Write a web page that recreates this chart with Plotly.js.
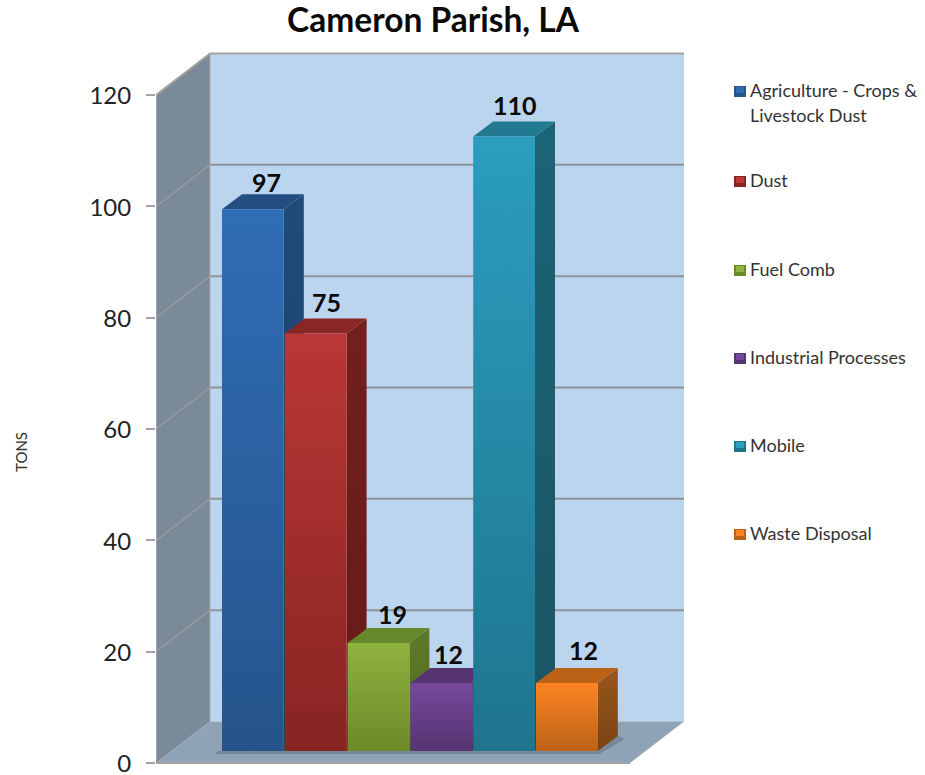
<!DOCTYPE html>
<html>
<head>
<meta charset="utf-8">
<script src="https://cdn.plot.ly/plotly-3.0.1.min.js"></script>
<style>html,body{margin:0;padding:0;background:#fff}#chart{width:925px;height:775px}</style>
</head>
<body>
<div id="chart"></div>
<script>
// ---- data ----
var categories = ['Agriculture - Crops &<br>Livestock Dust', 'Dust', 'Fuel Comb', 'Industrial Processes', 'Mobile', 'Waste Disposal'];
var values = [97.3, 75, 19.4, 12.2, 110.4, 12.2];
var valueLabels = ['97', '75', '19', '12', '110', '12'];
var tickValues = [0, 20, 40, 60, 80, 100, 120];
var chartTitle = 'Cameron Parish, LA';
var yTitle = 'TONS';

// ---- styles ----
var frontTop =  ['#2f6db5', '#ba3735', '#8fb23f', '#75489c', '#2b9dbe', '#fc8422'];
var frontBot =  ['#26548b', '#872422', '#6c8a29', '#553572', '#1e758e', '#bb6216'];
var topFace =   ['#234e82', '#8a2623', '#66872c', '#563471', '#217a91', '#bb6116'];
var sideTop =   ['#1f4a7a', '#731f1d', '#5d7a28', '#4a2d62', '#1b6476', '#99561c'];
var sideBot =   ['#1d4169', '#661b19', '#516a22', '#412857', '#1a5464', '#7a4312'];
var labelDx = [14, 11, 14, 7, 11, 17];
var labelDy = [-12, -17, -14, -14, -16, -18];
var FONT = 'Lato, "Open Sans", sans-serif';

// ---- geometry (axis scales) ----
var W = 925, H = 775;
var L = 156, R = 700, T = 40, B = 766;      // plot box in page pixels
var pxY = 668 / 120, pxX = 62.8;            // pixels per axis unit
var x0Px = 221.5, y0Px = 763;               // where x=0 (first bar) and y=0 lie
var xMin = (L - x0Px) / pxX, xMax = (R - x0Px) / pxX;
var yMax = (y0Px - T) / pxY, yMin = (y0Px - B) / pxY;
var wallDx = 54 / pxX, wallDy = 41.5 / pxY;
var barDx = 20 / pxX, barDy = 15 / pxY;
var barBase = 12 / pxY;
var floorRight = (630 - x0Px) / pxX;
var wallTop = 120;

function px(p) { return (p - L) / (R - L); }
function py(p) { return (B - p) / (B - T); }

function poly(xs, ys, fill) {
  return { type: 'path', xref: 'x', yref: 'y', layer: 'below', line: { width: 0 }, fillcolor: fill,
    path: 'M' + xs.map(function (x, i) { return x + ',' + ys[i]; }).join('L') + 'Z' };
}
function seg(xs, ys, color, width) {
  return { type: 'path', xref: 'x', yref: 'y', layer: 'below', line: { color: color, width: width },
    path: 'M' + xs.map(function (x, i) { return x + ',' + ys[i]; }).join('L') };
}

var shapes = [];
// walls and floor
shapes.push(poly([xMin, xMin + wallDx, xMin + wallDx, xMin], [wallTop, wallTop + wallDy, wallDy, 0], '#7b8a99'));
shapes.push(poly([xMin + wallDx, floorRight + wallDx, floorRight + wallDx, xMin + wallDx],
                 [wallTop + wallDy, wallTop + wallDy, wallDy, wallDy], '#bcd5ee'));
shapes.push(poly([xMin, xMin + wallDx, floorRight + wallDx, floorRight], [0, wallDy, wallDy, 0], '#8ea3b5'));
// shadow below the bars on the floor
var nBars = values.length;
shapes.push(poly([-0.06, nBars + barDx, nBars + barDx + 0.1, nBars + 0.02, -0.09],
                 [barBase, barBase + barDy, barBase + barDy - 0.55, barBase - 0.55, barBase - 0.55],
                 'rgba(90,105,120,0.45)'));
// gridlines
tickValues.forEach(function (v) {
  if (v > 0) {
    shapes.push(seg([xMin, xMin + wallDx], [v, v + wallDy], v === 120 ? '#a3a3a3' : '#979b9e', v === 120 ? 2 : 1.5));
    shapes.push(seg([xMin + wallDx, floorRight + wallDx], [v + wallDy, v + wallDy], v === 120 ? '#a3a3a3' : '#8d9298', 2));
  }
});
// axis edges
shapes.push(seg([xMin, xMin], [0, 120], '#a3a3a3', 2));
shapes.push(seg([xMin + wallDx, xMin + wallDx], [wallDy, 120 + wallDy], '#a3a3a3', 1));
shapes.push(seg([xMin, floorRight], [0, 0], '#a3a3a3', 2));

// bars
var traces = [];
function face(name, xs, ys, opts) {
  var t = { type: 'scatter', mode: 'lines', name: name, x: xs.concat(xs[0]), y: ys.concat(ys[0]),
    fill: 'toself', line: { width: 0 }, hoverinfo: 'skip', showlegend: false };
  for (var k in opts) t[k] = opts[k];
  return t;
}
values.forEach(function (v, i) {
  var name = categories[i].replace('<br>', ' ');
  var g = 0.008;
  var xl = i + g, xr = i + 1 - g, b = barBase, tp = barBase + v;
  // side
  traces.push(face(name + ' side',
    [xr, xr + barDx, xr + barDx, xr], [b, b + barDy, tp + barDy, tp],
    { fillgradient: { type: 'vertical', start: tp + barDy, stop: b,
      colorscale: [[0, sideTop[i]], [1, sideBot[i]]] } }));
  // top
  traces.push(face(name + ' top',
    [xl, xr, xr + barDx, xl + barDx], [tp, tp, tp + barDy, tp + barDy],
    { fillcolor: topFace[i] }));
  // front
  traces.push(face(name,
    [xl, xr, xr, xl], [b, b, tp, tp],
    { fillgradient: { type: 'vertical', start: tp, stop: b,
      colorscale: [[0, frontTop[i]], [1, frontBot[i]]] } }));
});

// annotations
var annotations = [];
values.forEach(function (v, i) {
  annotations.push({ xref: 'x', yref: 'y', x: i + 0.5, y: barBase + v + barDy, text: valueLabels[i], showarrow: false,
    xanchor: 'center', yanchor: 'middle', xshift: labelDx[i], yshift: -labelDy[i],
    font: { family: FONT, size: 25, color: '#0a0a0a', weight: 700 } });
});
var keyY = [90, 180, 269, 357, 445, 533];
categories.forEach(function (c, i) {
  c.split('<br>').forEach(function (line, j) {
    annotations.push({ xref: 'paper', yref: 'paper', x: px(748), y: py(keyY[i] + j * 25), text: line, showarrow: false,
      xanchor: 'left', yanchor: 'middle', font: { family: FONT, size: 18, color: '#333333' } });
  });
  // legend key
  shapes.push({ type: 'rect', xref: 'paper', yref: 'paper', x0: px(734), x1: px(746), y0: py(keyY[i] - 4), y1: py(keyY[i] + 7),
    fillcolor: frontBot[i], line: { width: 0 } });
  shapes.push({ type: 'rect', xref: 'paper', yref: 'paper', x0: px(736), x1: px(744), y0: py(keyY[i] - 3), y1: py(keyY[i] + 3),
    fillcolor: frontTop[i], line: { width: 0 } });
});
annotations.push({ xref: 'paper', yref: 'paper', x: px(21), y: py(452), text: yTitle, textangle: -90, showarrow: false,
  xanchor: 'center', yanchor: 'middle', font: { family: FONT, size: 15, color: '#333333' } });

var layout = {
  width: W, height: H,
  margin: { l: L, r: W - R, t: T, b: H - B, pad: 0 },
  paper_bgcolor: '#ffffff', plot_bgcolor: 'rgba(0,0,0,0)',
  showlegend: false,
  hovermode: false,
  title: { text: chartTitle, x: 433 / W, xanchor: 'center', y: 1 - 20 / H, yanchor: 'middle',
    font: { family: FONT, size: 33.5, color: '#0a0a0a', weight: 700 } },
  xaxis: { range: [xMin, xMax], visible: false, fixedrange: true },
  yaxis: { range: [yMin, yMax], tickvals: tickValues, ticktext: tickValues.map(String),
    showgrid: false, zeroline: false, showline: false,
    ticks: 'outside', ticklen: 9, tickwidth: 2, tickcolor: '#a3a3a3', ticklabelstandoff: 10,
    ticklabeloverflow: 'allow', ticklabelshift: 1,
    tickfont: { family: FONT, size: 24, color: '#222222' }, fixedrange: true },
  shapes: shapes,
  annotations: annotations
};
Plotly.newPlot('chart', traces, layout, { displayModeBar: false, staticPlot: true });
</script>
</body>
</html>
